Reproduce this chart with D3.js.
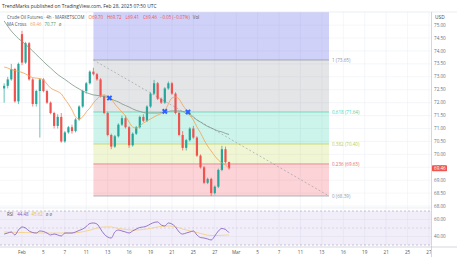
<!DOCTYPE html>
<html>
<head>
<meta charset="utf-8">
<script src="https://cdn.jsdelivr.net/npm/d3@7"></script>
<style>
  html, body { margin: 0; padding: 0; background: #fff; }
  svg { display: block; font-family: "Open Sans", "Noto Sans", sans-serif; }
</style>
</head>
<body>
<svg id="chart" width="457" height="257"></svg>
<script>
// ---- data (4h bars, first bar index -5) ----
const firstBar = -5;
const opens  = [72.55,72.65,72.90,73.30,72.05,74.65,73.55,74.30,72.90,71.95,72.45,72.90,72.45,72.00,71.60,71.10,71.45,70.50,70.85,71.05,70.90,71.35,71.85,72.45,72.75,73.20,73.10,72.90,72.25,71.60,70.75,70.30,70.70,71.15,71.40,71.05,70.35,70.80,71.05,71.45,71.30,71.85,72.35,72.75,72.15,72.00,72.55,72.75,72.35,71.60,70.75,70.25,70.55,71.00,70.65,69.95,69.50,68.90,69.05,68.50,68.75,69.40,70.20,69.70];
const highs  = [72.75,73.00,73.50,73.35,73.55,74.78,74.35,74.35,72.95,72.50,72.95,72.95,72.50,72.05,71.65,71.55,71.60,70.90,71.10,71.15,71.40,71.90,72.50,72.80,73.25,73.35,73.15,72.95,72.30,71.65,70.80,70.75,71.20,71.50,71.50,71.10,70.85,71.10,71.50,71.55,71.90,72.40,72.88,72.80,72.20,72.60,72.82,72.80,72.40,71.65,70.90,70.60,71.05,71.10,70.70,70.00,69.55,69.10,69.10,68.80,69.45,70.33,70.30,69.72];
const lows   = [72.00,72.55,72.85,72.00,71.95,73.45,73.50,72.85,71.85,71.85,70.65,72.40,71.95,71.55,71.00,71.00,70.45,70.45,70.80,70.80,70.85,71.30,71.80,72.35,72.70,73.05,72.85,72.20,71.55,70.70,70.20,70.25,70.65,71.10,71.00,70.25,70.30,70.75,71.00,71.25,71.25,71.80,72.30,72.10,71.95,71.95,72.50,72.30,71.55,70.70,70.15,70.15,70.50,70.60,69.90,69.45,68.85,68.85,68.39,68.45,68.70,69.35,69.65,69.41];
const closes = [72.65,72.90,73.30,72.05,73.50,73.55,74.30,72.90,71.95,72.45,72.90,72.45,72.00,71.60,71.10,71.45,70.50,70.85,71.05,70.90,71.35,71.85,72.45,72.75,73.20,73.10,72.90,72.25,71.60,70.75,70.30,70.70,71.15,71.40,71.05,70.35,70.80,71.05,71.45,71.30,71.85,72.35,72.75,72.15,72.00,72.55,72.75,72.35,71.60,70.75,70.25,70.55,71.00,70.65,69.95,69.50,68.90,69.05,68.50,68.75,69.40,70.20,69.70,69.46];

// MA Cross (fast orange, slow green)
const maFast = [73.38,73.34,73.28,73.24,73.21,73.17,73.11,73.03,72.97,72.95,72.93,72.88,72.72,72.57,72.49,72.43,72.34,72.14,71.95,71.72,71.45,71.37,71.45,71.64,71.79,71.99,72.14,72.26,72.30,72.24,72.14,71.95,71.79,71.64,71.48,71.25,71.06,71.02,71.10,71.21,71.29,71.37,71.45,71.52,71.58,71.68,71.95,72.18,72.22,72.14,71.91,71.72,71.52,71.33,71.06,70.83,70.56,70.32,70.13,69.94,69.78,69.67,69.59,69.46];
const maSlow = [75.16,74.96,74.77,74.62,74.48,74.37,74.25,74.13,74.00,73.86,73.73,73.59,73.46,73.34,73.21,73.09,72.99,72.90,72.80,72.70,72.61,72.53,72.45,72.39,72.34,72.30,72.28,72.26,72.24,72.20,72.14,72.08,72.03,71.95,71.89,71.83,71.76,71.70,71.66,71.62,71.60,71.60,71.60,71.60,71.62,71.64,71.66,71.68,71.68,71.68,71.66,71.64,71.56,71.45,71.33,71.25,71.16,71.08,71.02,70.96,70.90,70.87,70.81,70.77];
const crossBars   = [24.5, 40, 46.5];
const crossPrices = [72.18, 71.66, 71.64];

// RSI pane
const rsiVals = [42.9,44.1,45.3,41.8,47.6,51.2,50.0,46.5,44.7,44.1,46.5,45.9,44.1,41.8,42.9,41.8,40.6,44.1,44.1,44.1,45.3,47.1,48.8,51.8,55.3,55.9,54.7,48.8,42.9,39.4,38.2,45.3,47.6,46.5,45.3,44.1,46.5,48.8,50.6,51.2,52.4,54.7,56.5,57.1,53.5,52.4,55.9,54.7,51.2,45.3,42.9,44.1,45.3,46.5,41.8,38.8,38.2,37.1,35.9,40.6,46.5,49.4,48.2,44.48];
const rsiMa   = [45.3,45.2,45.0,44.9,44.8,44.7,44.6,44.5,44.4,44.3,44.1,44.1,44.0,44.0,44.0,44.0,44.1,44.1,44.1,44.1,44.3,44.8,45.6,46.5,47.4,48.6,50.0,50.7,51.2,51.3,51.2,50.4,49.5,48.8,48.4,47.8,47.5,47.6,47.9,48.3,48.8,49.5,50.3,51.2,51.8,52.2,52.4,52.2,51.4,50.3,48.8,47.7,46.6,45.6,44.7,43.6,42.5,41.5,41.2,41.1,41.2,41.4,41.6,41.8];

// Fib retracement drawing
const fibLevels = [1, 0.618, 0.382, 0.236, 0];
const fibPrices = [73.65, 71.64, 70.40, 69.63, 68.39];
const fibStartBar = 20, fibEndBar = 86;

// axes
const timeLabels  = ["Feb","5","7","11","13","16","19","21","25","27","Mar","5","7","11","13","16","19","21","25","27"];
const barsPerTick = 6;
const priceTicks  = [68, 68.5, 69, 69.5, 70, 70.5, 71, 71.5, 72, 72.5, 73, 73.5, 74, 74.5, 75];
const rsiTicks    = [40, 60];
const rsiBands    = [70, 50, 30];
const lastPrice   = 69.46;

// ---- layout ----
const svg = d3.select('#chart');
const axisX = 431;
const paneTop = 12, paneBottom = 208, rsiBottom = 247;

const x = d3.scaleLinear().domain([0, 114]).range([22, 22 + 114 * 3.57]);
const y = d3.scaleLinear().domain([68.39, 73.65]).range([196, 60]);
const yr = d3.scaleLinear().domain([30, 70]).range([245, 211]);
const barX = i => x(firstBar + i);

const defs = svg.append('defs');
defs.append('clipPath').attr('id', 'clipPrice')
  .append('rect').attr('x', 0).attr('y', paneTop).attr('width', axisX).attr('height', paneBottom - paneTop);
defs.append('clipPath').attr('id', 'clipRsi')
  .append('rect').attr('x', 0).attr('y', paneBottom).attr('width', axisX).attr('height', rsiBottom - paneBottom);
defs.append('clipPath').attr('id', 'clipTime')
  .append('rect').attr('x', 0).attr('y', rsiBottom).attr('width', axisX).attr('height', 10);

// grid
const grid = svg.append('g').attr('stroke', '#eef0f5').attr('stroke-width', 0.6);
timeLabels.forEach((t, k) => {
  grid.append('line')
    .attr('x1', x(k * barsPerTick)).attr('x2', x(k * barsPerTick))
    .attr('y1', paneTop).attr('y2', rsiBottom);
});
priceTicks.forEach(v => {
  if (y(v) < paneTop || y(v) > paneBottom) return;
  grid.append('line').attr('x1', 0).attr('x2', axisX).attr('y1', y(v)).attr('y2', y(v));
});
rsiTicks.forEach(v => {
  grid.append('line').attr('x1', 0).attr('x2', axisX).attr('y1', yr(v)).attr('y2', yr(v));
});

// fib bands
const price = svg.append('g').attr('clip-path', 'url(#clipPrice)');
const fx1 = x(fibStartBar), fx2 = x(fibEndBar);
const bandFills = ['rgba(100,102,232,0.3)', 'rgba(120,123,134,0.2)', 'rgba(0,200,150,0.2)', 'rgba(180,210,40,0.2)', 'rgba(242,54,69,0.22)'];
const lineColors = ['#8e90a8', '#4fcfae', '#bccd55', '#e36a75', '#9598a1'];
// above level 1
price.append('rect').attr('x', fx1).attr('width', fx2 - fx1)
  .attr('y', paneTop).attr('height', y(fibPrices[0]) - paneTop).attr('fill', bandFills[0]);
for (let k = 0; k < fibPrices.length - 1; k++) {
  price.append('rect').attr('x', fx1).attr('width', fx2 - fx1)
    .attr('y', y(fibPrices[k])).attr('height', y(fibPrices[k + 1]) - y(fibPrices[k]))
    .attr('fill', bandFills[k + 1]);
}
fibPrices.forEach((p, k) => {
  price.append('line').attr('x1', fx1).attr('x2', fx2).attr('y1', y(p)).attr('y2', y(p))
    .attr('stroke', lineColors[k]).attr('stroke-width', 0.7);
  price.append('text').attr('x', fx2 + 3).attr('y', y(p)).attr('dy', '0.35em')
    .attr('font-size', 4.6).attr('fill', lineColors[k])
    .text(`${fibLevels[k]} (${p.toFixed(2)})`);
});
price.append('line')
  .attr('x1', fx1).attr('y1', y(fibPrices[0]))
  .attr('x2', fx2).attr('y2', y(fibPrices[fibPrices.length - 1]))
  .attr('stroke', '#9598a1').attr('stroke-width', 0.6).attr('stroke-dasharray', '2,2');

// candles
const up = '#26a69a', down = '#ef5350';
const candles = price.append('g');
closes.forEach((c, i) => {
  const o = opens[i];
  const col = c >= o ? up : down;
  const cx = barX(i);
  candles.append('line').attr('x1', cx).attr('x2', cx)
    .attr('y1', y(highs[i])).attr('y2', y(lows[i]))
    .attr('stroke', col).attr('stroke-width', 0.7);
  const top = y(Math.max(o, c)), bot = y(Math.min(o, c));
  candles.append('rect').attr('x', cx - 1.1).attr('width', 2.2)
    .attr('y', top).attr('height', Math.max(0.7, bot - top)).attr('fill', col);
});

// moving averages
const maLine = d3.line().x((d, i) => barX(i)).y(d => y(d)).curve(d3.curveMonotoneX);
price.append('path').attr('d', maLine(maSlow)).attr('fill', 'none')
  .attr('stroke', '#7b9684').attr('stroke-width', 0.8);
price.append('path').attr('d', maLine(maFast)).attr('fill', 'none')
  .attr('stroke', '#f5a04c').attr('stroke-width', 0.8);

// cross markers
const sym = d3.symbol().type(d3.symbolCross).size(20);
crossBars.forEach((b, k) => {
  price.append('path').attr('d', sym())
    .attr('transform', `translate(${x(b)},${y(crossPrices[k])}) rotate(45)`)
    .attr('fill', '#2962ff');
});

// RSI pane
const rsi = svg.append('g').attr('clip-path', 'url(#clipRsi)');
rsi.append('rect').attr('x', 0).attr('width', axisX)
  .attr('y', yr(70)).attr('height', yr(30) - yr(70)).attr('fill', 'rgba(126,87,194,0.1)');
rsiBands.forEach(v => {
  rsi.append('line').attr('x1', 0).attr('x2', axisX).attr('y1', yr(v)).attr('y2', yr(v))
    .attr('stroke', v === 50 ? '#c9c3dc' : '#a39dbd').attr('stroke-width', 0.6)
    .attr('stroke-dasharray', '2,2');
});
const rsiLine = d3.line().x((d, i) => barX(i)).y(d => yr(d)).curve(d3.curveMonotoneX);
rsi.append('path').attr('d', rsiLine(rsiMa)).attr('fill', 'none')
  .attr('stroke', '#f5cf76').attr('stroke-width', 0.8);
rsi.append('path').attr('d', rsiLine(rsiVals)).attr('fill', 'none')
  .attr('stroke', '#7e57c2').attr('stroke-width', 0.8);

// frame
svg.append('line').attr('x1', 0).attr('x2', 457).attr('y1', paneTop).attr('y2', paneTop)
  .attr('stroke', '#e0e3eb').attr('stroke-width', 0.6);
svg.append('line').attr('x1', 0).attr('x2', axisX).attr('y1', paneBottom).attr('y2', paneBottom)
  .attr('stroke', '#e0e3eb').attr('stroke-width', 0.6);
svg.append('line').attr('x1', 0).attr('x2', 457).attr('y1', rsiBottom).attr('y2', rsiBottom)
  .attr('stroke', '#b8bcc6').attr('stroke-width', 0.6);
svg.append('line').attr('x1', axisX + 0.5).attr('x2', axisX + 0.5).attr('y1', paneTop).attr('y2', 257)
  .attr('stroke', '#b8bcc6').attr('stroke-width', 0.6);

// price axis labels
const axisText = svg.append('g').attr('font-size', 4.6).attr('fill', '#6a6d78');
priceTicks.forEach(v => {
  if (y(v) < paneTop || y(v) > paneBottom) return;
  axisText.append('text').attr('x', axisX + 3).attr('y', y(v)).attr('dy', '0.35em').text(v.toFixed(2));
});
rsiTicks.forEach(v => {
  axisText.append('text').attr('x', axisX + 3).attr('y', yr(v)).attr('dy', '0.35em').text(v.toFixed(2));
});
svg.append('rect').attr('x', axisX + 1).attr('y', paneTop + 1).attr('width', 25).attr('height', 8).attr('fill', '#fff');
svg.append('text').attr('x', axisX + 4).attr('y', 18.5).attr('font-size', 4.8).attr('fill', '#444').text('USD');

// last price tag
svg.append('rect').attr('x', axisX + 1).attr('y', y(lastPrice) - 3).attr('width', 15).attr('height', 6)
  .attr('rx', 0.8).attr('fill', '#ef5350');
svg.append('text').attr('x', axisX + 3).attr('y', y(lastPrice)).attr('dy', '0.35em')
  .attr('font-size', 4.6).attr('fill', '#fff').text(lastPrice.toFixed(2));

// time axis
const timeAxis = svg.append('g').attr('clip-path', 'url(#clipTime)')
  .attr('font-size', 4.6).attr('fill', '#555').attr('text-anchor', 'middle');
timeLabels.forEach((t, k) => {
  timeAxis.append('text').attr('x', x(k * barsPerTick)).attr('y', 254).text(t);
});

// header & legends
svg.append('text').attr('x', 2).attr('y', 8).attr('font-size', 4.9).attr('fill', '#333')
  .text('TrendMarks published on TradingView.com, Feb 28, 2025 07:50 UTC');

const leg1 = svg.append('text').attr('x', 7).attr('y', 19).attr('font-size', 4.4).attr('fill', '#555');
leg1.append('tspan').text('Crude Oil Futures · 4h · MARKETSCOM');
[['O', '69.70'], ['H', '69.72'], ['L', '69.41'], ['C', '69.46']].forEach(([k, v]) => {
  leg1.append('tspan').attr('dx', 4).attr('fill', '#ef5350').text(k + v);
});
leg1.append('tspan').attr('dx', 3).attr('fill', '#ef5350').text('−0.05 (−0.07%)');
leg1.append('tspan').attr('dx', 3).attr('fill', '#555').text('Vol');

const leg2 = svg.append('text').attr('x', 7).attr('y', 26).attr('font-size', 4.4).attr('fill', '#555');
leg2.append('tspan').text('MA Cross');
leg2.append('tspan').attr('dx', 4).attr('fill', '#f5a04c').text(maFast[maFast.length - 1].toFixed(2));
leg2.append('tspan').attr('dx', 3).attr('fill', '#4f9a6a').text(maSlow[maSlow.length - 1].toFixed(2));
leg2.append('tspan').attr('dx', 3).attr('fill', '#777').text('ø');

const leg3 = svg.append('text').attr('x', 7).attr('y', 216).attr('font-size', 4.4).attr('fill', '#555');
leg3.append('tspan').text('RSI');
leg3.append('tspan').attr('dx', 4).attr('fill', '#7e57c2').text(rsiVals[rsiVals.length - 1].toFixed(2));
leg3.append('tspan').attr('dx', 3).attr('fill', '#e8b84a').text('45.62');
leg3.append('tspan').attr('dx', 3).attr('fill', '#777').text('ø  ø');
</script>
</body>
</html>
